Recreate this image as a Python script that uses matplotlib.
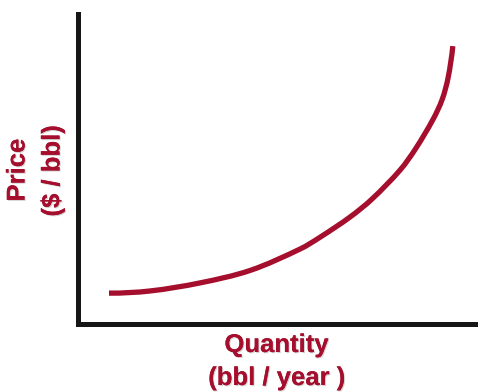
import matplotlib
matplotlib.use("Agg")
import math
import matplotlib.pyplot as plt
import matplotlib.patheffects as pe
from matplotlib.path import Path
from matplotlib.patches import PathPatch

# Supply curve: quantity vs. price (arbitrary units, 0-100)
quantity = [7.7, 18.0, 30.5, 43.0, 55.5, 60.5, 68.0, 73.5, 80.5, 84.4, 88.7, 91.0, 92.5, 93.7]
price = [10.0, 10.7, 13.3, 17.3, 24.2, 28.0, 34.5, 40.3, 49.6, 56.5, 65.8, 72.2, 79.2, 89.5]

x_label_lines = ["Quantity", "(bbl / year )"]
y_label_lines = ["Price", "($ / bbl)"]

RED = "#A50E2D"
AXIS = "#161616"

plt.rcParams["font.family"] = ["Liberation Sans", "DejaVu Sans"]

fig = plt.figure(figsize=(4.78, 3.92), dpi=100)
W, H = 478, 392
ax = fig.add_axes([78.2 / W, (H - 324.2) / H, 1 - 78.2 / W, (324.2 - 13.5) / H])
ax.set_xlim(0, 100)
ax.set_ylim(0, 100)


def smooth_path(xs, ys):
    """Cubic Bezier path through every point, chord-length Catmull-Rom tangents
    with natural (curvature-continuing) end tangents."""
    pts = list(zip(xs, ys))
    n = len(pts)
    t = [0.0]
    for i in range(1, n):
        dx = pts[i][0] - pts[i - 1][0]
        dy = pts[i][1] - pts[i - 1][1]
        t.append(t[-1] + math.hypot(dx, dy))
    tang = [None] * n
    for i in range(1, n - 1):
        dt = t[i + 1] - t[i - 1]
        tang[i] = ((pts[i + 1][0] - pts[i - 1][0]) / dt, (pts[i + 1][1] - pts[i - 1][1]) / dt)
    d0 = t[1] - t[0]
    c0 = ((pts[1][0] - pts[0][0]) / d0, (pts[1][1] - pts[0][1]) / d0)
    tang[0] = (2 * c0[0] - tang[1][0], 2 * c0[1] - tang[1][1])
    d1 = t[-1] - t[-2]
    c1 = ((pts[-1][0] - pts[-2][0]) / d1, (pts[-1][1] - pts[-2][1]) / d1)
    tang[-1] = (2 * c1[0] - tang[-2][0], 2 * c1[1] - tang[-2][1])
    verts = [pts[0]]
    codes = [Path.MOVETO]
    for i in range(n - 1):
        h = (t[i + 1] - t[i]) / 3
        a = (pts[i][0] + tang[i][0] * h, pts[i][1] + tang[i][1] * h)
        b = (pts[i + 1][0] - tang[i + 1][0] * h, pts[i + 1][1] - tang[i + 1][1] * h)
        verts += [a, b, pts[i + 1]]
        codes += [Path.CURVE4] * 3
    return Path(verts, codes)


curve = PathPatch(smooth_path(quantity, price), facecolor="none", edgecolor=RED,
                  lw=3.8, capstyle="butt", joinstyle="round")
ax.add_patch(curve)

for side in ("top", "right"):
    ax.spines[side].set_visible(False)
for side in ("left", "bottom"):
    ax.spines[side].set_linewidth(3.6)
    ax.spines[side].set_color(AXIS)
ax.set_xticks([])
ax.set_yticks([])

shadow = [pe.withSimplePatchShadow(offset=(0.8, -0.8), shadow_rgbFace="0.5", alpha=0.35), pe.Normal()]
txt = dict(color=RED, fontsize=18.5, fontweight="bold", ha="center", va="center")

fig.text(276.7 / W, 1 - 345 / H, x_label_lines[0], path_effects=shadow, **txt)
fig.text(276.7 / W, 1 - 378 / H, x_label_lines[1], path_effects=shadow, **txt)
fig.text(17.5 / W, 1 - 170 / H, y_label_lines[0], rotation=90, path_effects=shadow, **txt)
fig.text(52.5 / W, 1 - 171 / H, y_label_lines[1], rotation=90, path_effects=shadow, **txt)

fig.savefig("out.png", dpi=100, facecolor="white")
